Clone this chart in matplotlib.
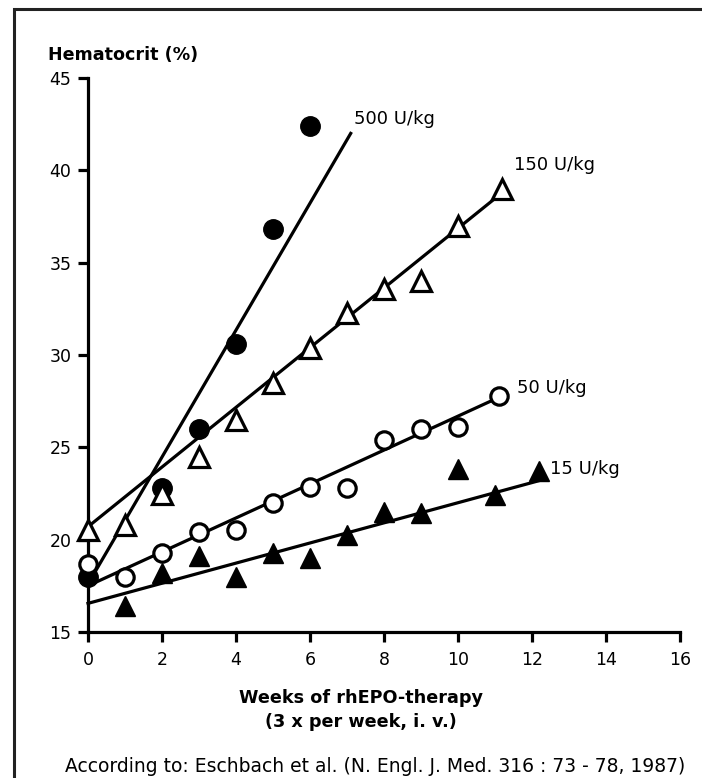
import matplotlib
matplotlib.use("Agg")
import matplotlib.pyplot as plt
from matplotlib.patches import Rectangle

plt.rcParams['font.family'] = ['DejaVu Sans']

# Data
weeks_500 = [0, 2, 3, 4, 5, 6]
hct_500 = [18.0, 22.8, 26.0, 30.6, 36.8, 42.4]
fit_500_x = [0, 7.1]
fit_500_y = [17.6, 42.0]

weeks_150 = [0, 1, 2, 3, 4, 5, 6, 7, 8, 9, 10, 11.2]
hct_150 = [20.5, 20.8, 22.5, 24.5, 26.5, 28.5, 30.4, 32.3, 33.6, 34.0, 37.0, 39.0]
fit_150_x = [0, 11.2]
fit_150_y = [20.7, 38.8]

weeks_50 = [0, 1, 2, 3, 4, 5, 6, 7, 8, 9, 10, 11.1]
hct_50 = [18.7, 18.0, 19.3, 20.4, 20.5, 22.0, 22.85, 22.8, 25.4, 26.0, 26.1, 27.8]
fit_50_x = [0, 11.1]
fit_50_y = [17.5, 27.7]

weeks_15 = [1, 2, 3, 4, 5, 6, 7, 8, 9, 10, 11, 12.2]
hct_15 = [16.4, 18.2, 19.1, 18.0, 19.3, 19.0, 20.25, 21.5, 21.45, 23.8, 22.4, 23.7]
fit_15_x = [0, 12.2]
fit_15_y = [16.55, 23.2]

labels = ['500 U/kg', '150 U/kg', '50 U/kg', '15 U/kg']
label_x = [7.2, 11.5, 11.6, 12.5]
label_y = [42.8, 40.3, 28.2, 23.8]

x_ticks = [0, 2, 4, 6, 8, 10, 12, 14, 16]
y_ticks = [15, 20, 25, 30, 35, 40, 45]

fig = plt.figure(figsize=(7.02, 7.78), dpi=100)
ax = fig.add_axes([88/702, 1 - 632/778, 592/702, 554/778])

lw = 2.3
ax.plot(fit_500_x, fit_500_y, color='black', lw=lw, zorder=2)
ax.plot(fit_150_x, fit_150_y, color='black', lw=lw, zorder=2)
ax.plot(fit_50_x, fit_50_y, color='black', lw=lw, zorder=2)
ax.plot(fit_15_x, fit_15_y, color='black', lw=lw, zorder=2)

ax.plot(weeks_500, hct_500, 'o', ms=14, color='black', zorder=3, linestyle='none')
ax.plot(weeks_50, hct_50, 'o', ms=12.5, mfc='white', mec='black', mew=2.3, zorder=3, linestyle='none')
ax.plot(weeks_15, hct_15, '^', ms=15, color='black', zorder=3, linestyle='none')
ax.plot(weeks_150, hct_150, '^', ms=14.5, mfc='white', mec='black', mew=2.3, zorder=4, linestyle='none')

for lab, lx, ly in zip(labels, label_x, label_y):
    ax.text(lx, ly, lab, fontsize=13, va='center', ha='left')

ax.set_xlim(0, 16)
ax.set_ylim(15, 45)
ax.set_xticks(x_ticks)
ax.set_yticks(y_ticks)
ax.tick_params(labelsize=12.5, width=2.3, length=7, direction='out')
ax.tick_params(axis='x', pad=7)
ax.tick_params(axis='y', pad=5)
for s in ['top', 'right']:
    ax.spines[s].set_visible(False)
for s in ['left', 'bottom']:
    ax.spines[s].set_linewidth(2.3)
for art in ax.lines:
    art.set_clip_on(False)

fig.text(48/702, 1 - 55/778, 'Hematocrit (%)', fontsize=12.6, fontweight='bold',
         ha='left', va='center')
fig.text(361/702, 1 - 698/778, 'Weeks of rhEPO-therapy', fontsize=12.7, fontweight='bold',
         ha='center', va='center')
fig.text(361/702, 1 - 722/778, '(3 x per week, i. v.)', fontsize=12.7, fontweight='bold',
         ha='center', va='center')
fig.text(375/702, 1 - 766/778,
         'According to: Eschbach et al. (N. Engl. J. Med. 316 : 73 - 78, 1987)',
         fontsize=13.5, ha='center', va='center')

fig.patches.append(Rectangle((14/702, -0.1), 1.2, 1.1 - 9/778,
                             transform=fig.transFigure, fill=False,
                             edgecolor='#222222', lw=2.2, zorder=0))

fig.savefig('out.png', dpi=100)
